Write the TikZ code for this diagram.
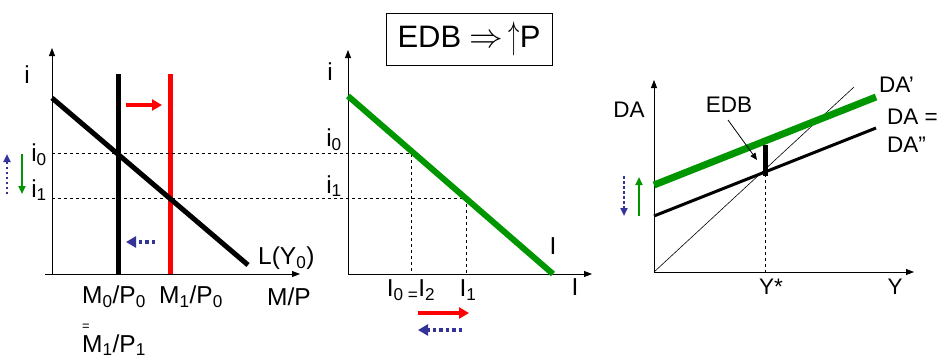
\documentclass[tikz,border=0pt]{standalone}
\usepackage{fontspec}
\setmainfont{Liberation Sans}
\usetikzlibrary{arrows.meta}
\definecolor{edbgreen}{RGB}{0,150,0}
\definecolor{edbblue}{RGB}{51,51,153}
\begin{document}
\begin{tikzpicture}[
    x=1pt,y=-1pt,
    axis/.style={-{Triangle[length=8pt,width=6pt]},line width=0.8pt},
    guide/.style={dashed,line width=0.6pt},
    lbl/.style={inner sep=0pt,font=\fontsize{24.5}{26}\selectfont},
    slbl/.style={inner sep=0pt,font=\fontsize{22.5}{24}\selectfont},
    shiftr/.style={-{Triangle[length=10pt,width=11pt]},line width=3.5pt,red},
    shiftb/.style={-{Triangle[length=10pt,width=11pt]},line width=3.5pt,edbblue,dash pattern=on 3.5pt off 3pt},
    shiftg/.style={-{Triangle[length=8pt,width=7pt]},line width=2.2pt,edbgreen},
    shiftbv/.style={-{Triangle[length=8pt,width=7pt]},line width=2.4pt,edbblue,dash pattern=on 2.5pt off 2.5pt}
]
\useasboundingbox (0,0) rectangle (939,362);
\node[draw,line width=0.8pt,minimum width=166pt,minimum height=52pt,font=\fontsize{31}{33}\selectfont] (title) at (469,39) {EDB \scalebox{1.35}{$\Rightarrow$}\,\raisebox{-1pt}{\scalebox{0.9}[1.55]{$\uparrow$}}P};

% money market
\draw[axis] (52,274) -- (52,48);
\draw[axis] (45,274) -- (300,274);
\node[lbl] (mi) at (27,75) {i};
\node[lbl] (mp) at (289,297) {M/P};
\draw[line width=5pt] (118,74) -- (118,274);
\draw[line width=5pt,red] (170,74) -- (170,274);
\draw[line width=5pt] (52,98) -- (248,265);
\node[lbl,anchor=west] (ly) at (258,258) {L(Y\textsubscript{0})};
\node[lbl] (m0) at (114,297) {M\textsubscript{0}/P\textsubscript{0}};
\node[lbl] (m1) at (191,297) {M\textsubscript{1}/P\textsubscript{0}};
\node[inner sep=0pt,font=\fontsize{13}{13}\selectfont] (eq) at (86,327) {=};
\node[lbl] (m2) at (114,345) {M\textsubscript{1}/P\textsubscript{1}};
\node[lbl] (mi0) at (39,155) {i\textsubscript{0}};
\node[lbl] (mi1) at (39,190) {i\textsubscript{1}};
\coordinate (ra) at (126,105); \coordinate (rb) at (162,105);
\draw[shiftr] (ra) -- (rb);
\coordinate (ba) at (155,242); \coordinate (bb) at (126,242);
\draw[shiftb] (ba) -- (bb);
\coordinate (ua) at (7,194); \coordinate (ub) at (7,154);
\draw[shiftbv] (ua) -- (ub);
\coordinate (da) at (22,154); \coordinate (db) at (22,194);
\draw[shiftg] (da) -- (db);

% guides i0, i1
\draw[guide] (52,153) -- (411,153) -- (411,274);
\draw[guide] (52,198) -- (466,198) -- (466,274);

% investment
\draw[axis] (348,274) -- (348,50);
\draw[axis] (348,274) -- (592,274);
\draw[line width=6pt,edbgreen] (348,96) -- (553,274);
\node[lbl] (ii) at (330,72) {i};
\node[lbl] (ii0) at (334,140) {i\textsubscript{0}};
\node[lbl] (ii1) at (334,186) {i\textsubscript{1}};
\node[lbl] (il) at (553,246) {I};
\node[lbl] (ix) at (575,287) {I};
\node[lbl] (i02) at (411,290) {I\textsubscript{0 =}I\textsubscript{2}};
\node[lbl] (i1) at (468,290) {I\textsubscript{1}};
\coordinate (ira) at (418,313); \coordinate (irb) at (469,313);
\draw[shiftr] (ira) -- (irb);
\coordinate (iba) at (462,330); \coordinate (ibb) at (418,330);
\draw[shiftb] (iba) -- (ibb);

% aggregate demand
\draw[axis] (654,272) -- (654,80);
\draw[axis] (654,272) -- (914,272);
\draw[line width=0.6pt] (654,272) -- (854,87);
\draw[line width=3pt] (654,216) -- (876,128);
\draw[line width=7pt,edbgreen] (654,185) -- (876,97);
\draw[guide] (765,174) -- (765,272);
\node[slbl] (da0) at (629,110) {DA};
\node[slbl,anchor=west] (da1) at (879,85) {DA’};
\node[slbl,anchor=west] (da2) at (887,117) {DA =};
\node[slbl,anchor=west] (da3) at (887,145) {DA”};
\node[slbl] (ys) at (771,287) {Y*};
\node[slbl] (yy) at (895,287) {Y};
\node[slbl] (edb) at (729,105) {EDB};
\coordinate (gap) at (765,145);
\draw[line width=5pt] (gap) -- (765,176);
\coordinate (gapl) at (757,160);
\draw[-{Triangle[length=7pt,width=6pt]},line width=0.8pt] (728,120) -- (gapl);
\coordinate (dba) at (624,176); \coordinate (dbb) at (624,216);
\draw[shiftbv] (dba) -- (dbb);
\coordinate (uga) at (639,216); \coordinate (ugb) at (639,177);
\draw[shiftg] (uga) -- (ugb);
\end{tikzpicture}
\end{document}
